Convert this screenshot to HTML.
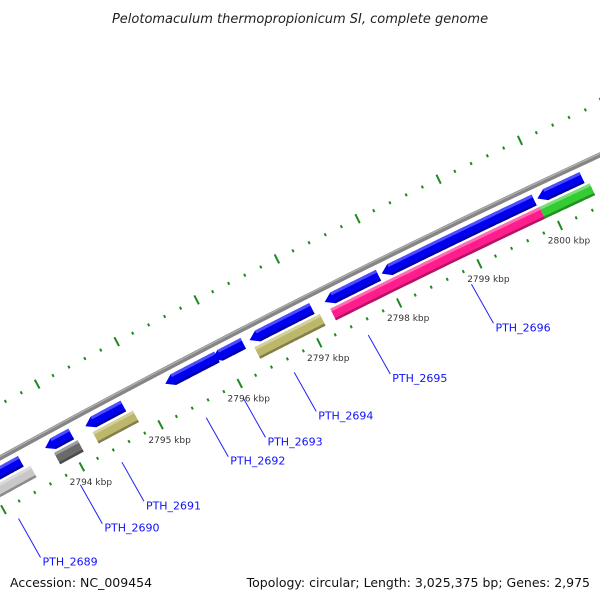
<!DOCTYPE html>
<html><head><meta charset="utf-8"><style>
body{margin:0;background:#fff}
svg{display:block;font-family:"DejaVu Sans","Liberation Sans",sans-serif}
</style></head><body>
<svg id="map" width="600" height="600" viewBox="0 0 600 600">
<text x="300" y="23" text-anchor="middle" font-size="13" font-style="italic" fill="#222">Pelotomaculum thermopropionicum SI, complete genome</text>
<g id="g-ticks"></g>
<g id="g-backbone"></g>
<g id="g-features"></g>
<g id="g-labels"></g>
<text x="10" y="587" font-size="12.5" fill="#111">Accession: NC_009454</text>
<text x="590" y="587" text-anchor="end" font-size="12.5" fill="#111">Topology: circular; Length: 3,025,375 bp; Genes: 2,975</text>
</svg>
<script>
// data (kbp)
const tickKbp = [2794, 2795, 2796, 2797, 2798, 2799, 2800];
const fwdStart = [2792.7, 2793.74, 2794.25, 2795.26, 2795.85, 2796.32, 2797.26, 2797.97, 2799.9];
const fwdEnd   = [2793.43, 2794.07, 2794.73, 2795.91, 2796.24, 2797.1, 2797.93, 2799.86, 2800.45];
const colStart = [2792.6, 2793.8, 2794.29, 2796.33, 2797.28, 2799.88];
const colEnd   = [2793.5, 2794.1, 2794.8, 2797.15, 2799.88, 2800.5];
const colColor = ["#c8c8c8", "#6a6a6a", "#bdb76b", "#bdb76b", "#ff1c8d", "#33cc33"];
const redStart = [2792.7];
const redEnd = [2793.05];
const labelNames = ["PTH_2689","PTH_2690","PTH_2691","PTH_2692","PTH_2693","PTH_2694","PTH_2695","PTH_2696"];
const labelKbp = [2793.1, 2793.89, 2794.42, 2795.49, 2795.96, 2796.6, 2797.53, 2798.82];

const NS="http://www.w3.org/2000/svg";
const cx=4686, cy=8992, R=9736;
function ang(k){return (116.26-0.528*(k-2798))*Math.PI/180;}
function pos(k,r){const a=ang(k);return [cx+r*Math.cos(a), cy-r*Math.sin(a)];}
function mk(tag,attrs,parent){const e=document.createElementNS(NS,tag);for(const k in attrs)e.setAttribute(k,attrs[k]);parent.appendChild(e);return e;}
function arcPts(k0,k1,r){const p=[];const n=40;for(let i=0;i<=n;i++){p.push(pos(k0+(k1-k0)*i/n,r));}return p;}
function ps(p){return p.map(q=>q[0].toFixed(1)+","+q[1].toFixed(1)).join(" ");}

// backbone
const gb=document.getElementById('g-backbone');
let bb=mk('polyline',{points:ps(arcPts(2791,2802,R)),fill:'none',stroke:'#858585','stroke-width':5},gb);


let bb2=mk('polyline',{points:ps(arcPts(2791,2802,R+1.3)),fill:'none',stroke:'#b0b0b0','stroke-width':1.3},gb);



// ticks
const gt=document.getElementById('g-ticks');
for(let i=0;i<=55;i++){
  const k=2792+i*0.2;
  const major=Math.abs(k-Math.round(k))<1e-6;
  [R-47,R+47].forEach(r=>{
    const len=major?10:3;
    const a=pos(k,r-len/2),b=pos(k,r+len/2);
    const t=mk('line',{x1:a[0],y1:a[1],x2:b[0],y2:b[1],stroke:'#1e8a1e','stroke-width':2},gt);
    
    
  });
}
tickKbp.forEach(k=>{
  const p=pos(k,R-47);
  const t=mk('text',{x:p[0]+9,y:p[1]+18,'text-anchor':'middle','font-size':9,fill:'#333'},gt);
  t.textContent=k+' kbp';
  
  
});

// features
const gf=document.getElementById('g-features');
function band(k0,k1,rc,w,color,light,dark,arrowLeft,arrowRight,name){
  const ro=rc+w/2, ri=rc-w/2, h=0.1;
  let a0=k0;
  const pts=[];
  if(arrowLeft){pts.push(pos(k0,rc));a0=k0+h;}
  const a1=arrowRight?k1-h:k1;
  pts.push(...arcPts(a0,a1,ro));
  if(arrowRight){pts.push(pos(k1,rc));}
  pts.push(...arcPts(a1,a0,ri));
  const g=mk('g',{},gf);
  
  
  mk('polygon',{points:ps(pts),fill:color},g);
  mk('polygon',{points:ps(arcPts(a0,a1,ro).concat(arcPts(a1,a0,ro-3))),fill:light},g);
  mk('polygon',{points:ps(arcPts(a0,a1,ri+2.5).concat(arcPts(a1,a0,ri))),fill:dark},g);
}
fwdStart.forEach((s,i)=>band(s,fwdEnd[i],R-13,12,'#0000f0','#4d4dff','#0000a8',true,false,'gene-arrow-'+i));
colStart.forEach((s,i)=>{
  band(s,colEnd[i],R-28,13,colColor[i],'rgba(255,255,255,0.35)','rgba(0,0,0,0.3)',false,false,'gene-block-'+i);
});
redStart.forEach((s,i)=>band(s,redEnd[i],R+10,12,'#ff0000','#ff5555','#b00000',false,true,'red-feature-'+i));

// labels
const gl=document.getElementById('g-labels');
labelKbp.forEach((k,i)=>{
  const a=pos(k,R-62);
  const l=mk('line',{x1:a[0],y1:a[1],x2:a[0]+22,y2:a[1]+39,stroke:'#2020ff','stroke-width':1},gl);
  
  
  const t=mk('text',{x:a[0]+24,y:a[1]+47,'font-size':11,fill:'#1010ff'},gl);
  t.textContent=labelNames[i];
  
  
});
</script>
</body></html>
